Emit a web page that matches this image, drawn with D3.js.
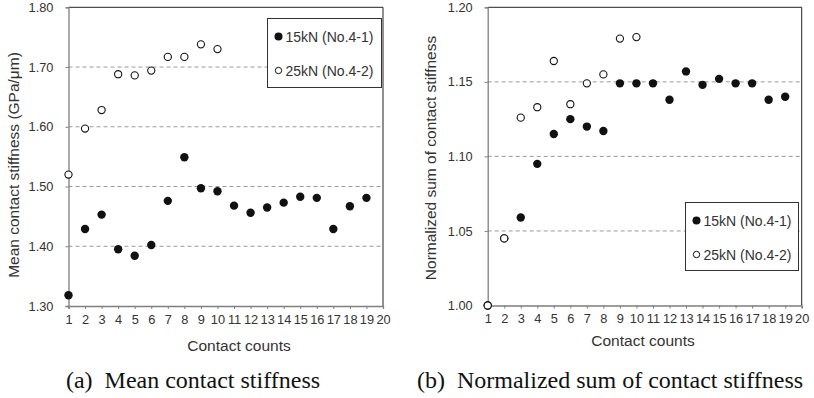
<!DOCTYPE html>
<html><head><meta charset="utf-8">
<script src="https://cdn.jsdelivr.net/npm/d3@7"></script>
<style>body{margin:0;background:#fff}svg{display:block}</style>
</head><body><svg id="c" width="814" height="398"></svg>
<script>
const counts = d3.range(1, 21);
const meanA15 = [1.318,1.429,1.453,1.395,1.384,1.402,1.476,1.549,1.497,1.492,1.468,1.456,1.465,1.473,1.483,1.481,1.429,1.467,1.481];
const meanA25 = [1.520,1.597,1.628,1.688,1.686,1.694,1.717,1.717,1.738,1.730];
const sumB15 = [1.000,1.045,1.059,1.095,1.115,1.125,1.120,1.117,1.149,1.149,1.149,1.138,1.157,1.148,1.152,1.149,1.149,1.138,1.140];
const sumB25 = [1.000,1.045,1.126,1.133,1.164,1.135,1.149,1.155,1.179,1.180];
const yTicksA = [1.30,1.40,1.50,1.60,1.70,1.80];
const yTicksB = [1.00,1.05,1.10,1.15,1.20];
const seriesNames = ["15kN (No.4-1)", "25kN (No.4-2)"];

const svg = d3.select("#c");
const font = "'Liberation Sans', Arial, sans-serif";
const txt = "#333";

function panel(o) {
  const g = svg.append("g");
  const x = d3.scaleLinear().domain([1, 20]).range([o.x0, o.x1]);
  const y = d3.scaleLinear().domain(o.dom).range([o.y1, o.y0]);
  g.selectAll(".grid").data(o.grid).join("line")
    .attr("x1", o.x0).attr("x2", o.x1)
    .attr("y1", d => y(d)).attr("y2", d => y(d))
    .attr("stroke", "#9a9a9a").attr("stroke-dasharray", "4,3").attr("stroke-width", 1);
  g.append("path").attr("d", `M${o.x0},${y(o.dom[1])}H${o.x1}V${o.y1}`)
    .attr("fill", "none").attr("stroke", "#222").attr("stroke-width", 1);
  const ax = g.append("g").attr("transform", `translate(0,${o.y1})`)
    .call(d3.axisBottom(x).tickValues(counts).tickFormat(d3.format("d")).tickSize(3).tickPadding(5));
  const ay = g.append("g").attr("transform", `translate(${o.x0},0)`)
    .call(d3.axisLeft(y).tickValues(o.ticks).tickFormat(d3.format(".2f")).tickSize(3).tickPadding(12));
  [ax, ay].forEach(a => {
    a.select(".domain").attr("stroke", "#7f7f7f").attr("stroke-width", 1.3);
    a.selectAll(".tick line").attr("stroke", "#7f7f7f");
    a.selectAll("text").attr("fill", txt).style("font-family", font).style("font-size", "12.8px");
  });
  ax.selectAll("text").attr("dy", "0.75em");
  g.append("text").attr("x", o.xlx).attr("y", o.xly).attr("text-anchor", "middle")
    .attr("fill", txt).style("font-family", font).style("font-size", "15.5px").text("Contact counts");
  g.append("text").attr("transform", `translate(${o.ylx},${o.yly}) rotate(-90)`)
    .attr("text-anchor", "middle").attr("fill", txt).style("font-family", font).style("font-size", "15.5px").text(o.ylabel);
  g.selectAll(".p15").data(o.s15).join("circle")
    .attr("cx", (d, i) => x(i + 1)).attr("cy", d => y(d)).attr("r", 4.2).attr("fill", "#111");
  g.selectAll(".p25").data(o.s25).join("circle")
    .attr("cx", (d, i) => x(i + 1)).attr("cy", d => y(d)).attr("r", 3.6)
    .attr("fill", "#fff").attr("stroke", "#111").attr("stroke-width", 1.1);
  const L = o.leg;
  g.append("rect").attr("x", L.x).attr("y", L.y).attr("width", L.w).attr("height", L.h)
    .attr("fill", "#fff").attr("stroke", "#333").attr("stroke-width", 1);
  seriesNames.forEach((nm, i) => {
    const cy = L.y + 18 + i * 34;
    if (i === 0) g.append("circle").attr("cx", L.x + 11).attr("cy", cy).attr("r", 4).attr("fill", "#111");
    else g.append("circle").attr("cx", L.x + 11).attr("cy", cy).attr("r", 3.2).attr("fill", "#fff").attr("stroke", "#111").attr("stroke-width", 1);
    g.append("text").attr("x", L.x + 18).attr("y", cy + 5).attr("fill", txt)
      .style("font-family", font).style("font-size", "14px").text(nm);
  });
}

panel({x0: 68.5, x1: 383, y0: 7.3, y1: 306, dom: [1.30, 1.80], ticks: yTicksA, grid: [1.40,1.50,1.60,1.70],
  s15: meanA15, s25: meanA25, ylabel: "Mean contact stiffness (GPa/\u03bcm)", ylx: 19, yly: 165,
  xlx: 239, xly: 351, leg: {x: 267.5, y: 18.5, w: 114, h: 69}});
panel({x0: 487.7, x1: 801.7, y0: 7.3, y1: 305.5, dom: [1.00, 1.20], ticks: yTicksB, grid: [1.05,1.10,1.15],
  s15: sumB15, s25: sumB25, ylabel: "Normalized sum of contact stiffness", ylx: 436, yly: 158,
  xlx: 643, xly: 346, leg: {x: 685.5, y: 202.5, w: 113, h: 68}});

svg.append("text").attr("x", 193).attr("y", 388).attr("text-anchor", "middle")
  .style("font-family", "'Liberation Serif', 'Times New Roman', serif").style("font-size", "24px").attr("fill", "#111")
  .attr("xml:space", "preserve").text("(a)  Mean contact stiffness");
svg.append("text").attr("x", 610).attr("y", 388).attr("text-anchor", "middle")
  .style("font-family", "'Liberation Serif', 'Times New Roman', serif").style("font-size", "24px").attr("fill", "#111")
  .attr("xml:space", "preserve").text("(b)  Normalized sum of contact stiffness");
</script></body></html>
